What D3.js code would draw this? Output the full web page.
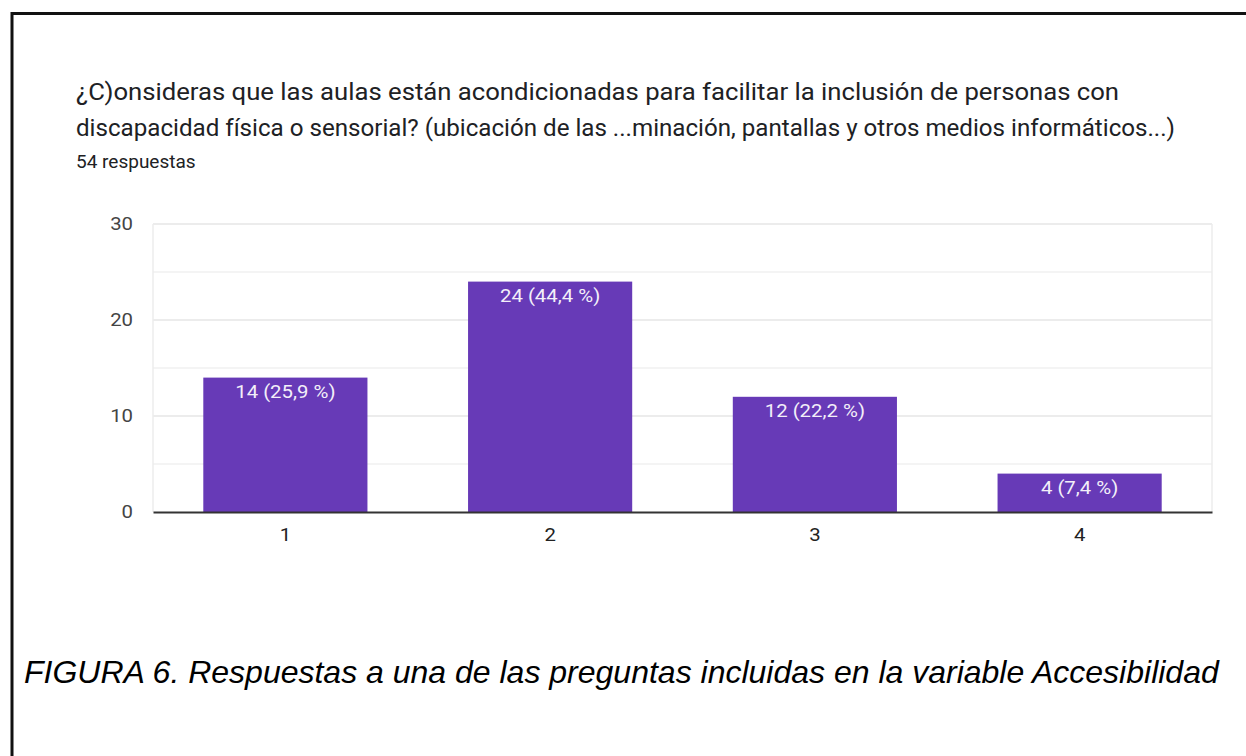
<!DOCTYPE html>
<html>
<head>
<meta charset="utf-8">
<script src="https://cdn.jsdelivr.net/npm/d3@7"></script>
<style>
  body { margin: 0; background: #fff; }
  svg { display: block; }
  .title { font-family: Roboto, sans-serif; fill: #202124; }
  .tick text { font-family: Roboto, sans-serif; }
</style>
</head>
<body>
<svg id="gfx" width="1246" height="756"></svg>
<script>
// chart data
const categories = ["1", "2", "3", "4"];
const counts = [14, 24, 12, 4];
const percents = ["25,9", "44,4", "22,2", "7,4"];
const yTicks = [0, 10, 20, 30];
const minorTicks = [5, 15, 25];

const titleLines = [
    "¿C)onsideras que las aulas están acondicionadas para facilitar la inclusión de personas con",
    "discapacidad física o sensorial? (ubicación de las ...minación, pantallas y otros medios informáticos...)"
];
const subtitle = "54 respuestas";
const caption = "FIGURA 6. Respuestas a una de las preguntas incluidas en la variable Accesibilidad";

const svg = d3.select("#gfx");

// the screenshot is a bit wider than tall, so text gets stretched horizontally
function stretch(sel, factor) {
    sel.each(function () {
        const len = this.getComputedTextLength();
        d3.select(this).attr("textLength", len * factor).attr("lengthAdjust", "spacingAndGlyphs");
    });
}

// frame lines (top and left only)
svg.append("line").attr("x1", 11).attr("x2", 1246).attr("y1", 13.5).attr("y2", 13.5)
    .attr("stroke", "#111").attr("stroke-width", 3);
svg.append("line").attr("x1", 12).attr("x2", 12).attr("y1", 12).attr("y2", 756)
    .attr("stroke", "#111").attr("stroke-width", 3);

// title block
const titleWidths = [1043, 1099];
svg.selectAll("text.title")
    .data(titleLines)
    .enter().append("text")
    .attr("class", "title")
    .attr("x", 76)
    .attr("y", (d, i) => 100 + i * 36)
    .attr("font-size", 23)
    .attr("textLength", (d, i) => titleWidths[i])
    .attr("lengthAdjust", "spacingAndGlyphs")
    .text(d => d);

svg.append("text")
    .attr("class", "title")
    .attr("x", 76).attr("y", 168)
    .attr("font-size", 19)
    .text(subtitle);

// plot area
const plotL = 153, plotR = 1212, plotT = 224, plotB = 512;

const x = d3.scaleBand().domain(categories).range([plotL, plotR]).paddingInner(0.38).paddingOuter(0.19);
const y = d3.scaleLinear().domain([0, 30]).range([plotB, plotT]);

const plot = svg.append("g");

// minor gridlines
plot.selectAll("line.minor")
    .data(minorTicks)
    .enter().append("line")
    .attr("x1", plotL).attr("x2", plotR)
    .attr("y1", d => y(d)).attr("y2", d => y(d))
    .attr("stroke", "#f1f1f1").attr("stroke-width", 1.5);

// major gridlines
plot.selectAll("line.major")
    .data(yTicks.slice(1))
    .enter().append("line")
    .attr("x1", plotL).attr("x2", plotR)
    .attr("y1", d => y(d)).attr("y2", d => y(d))
    .attr("stroke", "#e6e6e6").attr("stroke-width", 1.5);

// side borders of the plot
[plotL, plotR].forEach(px => {
    plot.append("line")
        .attr("x1", px).attr("x2", px).attr("y1", plotT).attr("y2", plotB)
        .attr("stroke", "#ececec").attr("stroke-width", 1.5);
});

// y axis labels
const yAxis = d3.axisLeft(y).tickValues(yTicks).tickSize(0).tickPadding(20);
const yg = svg.append("g").attr("transform", "translate(" + plotL + ",0)").call(yAxis);
yg.select(".domain").remove();
yg.selectAll("text").attr("font-size", 18.5).attr("fill", "#444");
stretch(yg.selectAll("text"), 1.1);

// bars
plot.selectAll("rect.bar")
    .data(counts)
    .enter().append("rect")
    .attr("class", "bar")
    .attr("x", (d, i) => x(categories[i]))
    .attr("width", x.bandwidth())
    .attr("y", d => y(d))
    .attr("height", d => y(0) - y(d))
    .attr("fill", "#673ab7");

// bar labels
const labels = plot.selectAll("text.lbl")
    .data(counts)
    .enter().append("text")
    .attr("class", "lbl")
    .attr("x", (d, i) => x(categories[i]) + x.bandwidth() / 2)
    .attr("y", d => y(d) + 20.5)
    .attr("text-anchor", "middle")
    .attr("font-family", "Roboto, sans-serif")
    .attr("font-size", 18.5)
    .attr("fill", "#f3eff9")
    .text((d, i) => d + " (" + percents[i] + " %)");
stretch(labels, 1.1);

// x axis
const xAxis = d3.axisBottom(x).tickSize(0).tickPadding(16);
const xg = svg.append("g").attr("transform", "translate(0," + plotB + ")").call(xAxis);
xg.select(".domain").attr("stroke", "#333").attr("stroke-width", 2);
xg.selectAll("text").attr("font-size", 18.5).attr("fill", "#222");
stretch(xg.selectAll("text"), 1.1);

// caption
svg.append("text")
    .attr("x", 24).attr("y", 683)
    .attr("font-family", "'Liberation Sans', Arial, sans-serif")
    .attr("font-style", "italic")
    .attr("font-size", 32)
    .attr("fill", "#000")
    .text(caption);
</script>
</body>
</html>
